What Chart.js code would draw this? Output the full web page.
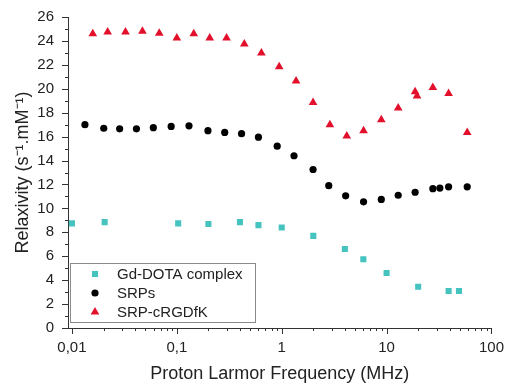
<!DOCTYPE html>
<html>
<head>
<meta charset="utf-8">
<script src="https://cdn.jsdelivr.net/npm/chart.js@4/dist/chart.umd.min.js"></script>
<style>
  html, body { margin: 0; padding: 0; background: #fff; }
  #wrap { width: 509px; height: 389px; position: relative; }
</style>
</head>
<body>
<div id="wrap"><canvas id="relaxChart"></canvas></div>
<script>
// values
const xTickValues = [0.01, 0.1, 1, 10, 100];

const gdFreq = [0.01, 0.0205, 0.103, 0.2, 0.4, 0.6, 1.0, 2.0, 4.0, 6.0, 10, 20, 39, 49];
const gdRelax = [8.75, 8.85, 8.75, 8.7, 8.85, 8.6, 8.4, 7.7, 6.6, 5.75, 4.6, 3.45, 3.1, 3.1];

const srpFreq = [0.0133, 0.0201, 0.0285, 0.0412, 0.0597, 0.0883, 0.1306, 0.198, 0.286, 0.414, 0.6, 0.906,
                 1.31, 1.99, 2.81, 4.07, 6.03, 8.9, 12.9, 18.7, 27.6, 32.2, 39.0, 58.7];
const srpRelax = [17.0, 16.7, 16.65, 16.65, 16.75, 16.85, 16.9, 16.5, 16.35, 16.25, 15.95, 15.2,
                  14.4, 13.25, 11.9, 11.05, 10.55, 10.75, 11.1, 11.35, 11.65, 11.7, 11.8, 11.8];

const rgdFreq = [0.0158, 0.0219, 0.0324, 0.047, 0.068, 0.1, 0.145, 0.206, 0.298, 0.44, 0.64, 0.946,
                 1.37, 1.99, 2.88, 4.17, 6.03, 8.9, 12.9, 18.7, 19.5, 27.6, 39, 58.7];
const rgdRelax = [24.6, 24.75, 24.75, 24.8, 24.65, 24.25, 24.6, 24.25, 24.25, 23.75, 23.0, 21.85,
                  20.65, 18.85, 17.0, 16.05, 16.5, 17.4, 18.4, 19.75, 19.4, 20.1, 19.6, 16.35];

const toPoints = (xs, ys) => xs.map((x, i) => ({ x: x, y: ys[i] }));

const FONT = 'Liberation Sans, Arial, sans-serif';

// axis ticks (major + minor) drawn by hand so minor ones can be shorter
const tickMarks = {
    id: 'tickMarks',
    afterDraw(chart) {
        const ctx = chart.ctx;
        const xs = chart.scales.x, ys = chart.scales.y;
        const area = chart.chartArea;
        ctx.save();
        ctx.strokeStyle = '#333';
        ctx.lineWidth = 1;
        ctx.beginPath();
        for (let e = -2; e <= 2; e++) {
            for (let m = 1; m <= 9; m++) {
                const v = m * Math.pow(10, e);
                if (v > 100.0001) continue;
                const px = Math.round(xs.getPixelForValue(v)) + 0.5;
                const len = m === 1 ? 6 : 3;
                ctx.moveTo(px, area.bottom);
                ctx.lineTo(px, area.bottom + len);
            }
        }
        for (let v = 0; v <= 26; v++) {
            const py = Math.round(ys.getPixelForValue(v)) + 0.5;
            const len = v % 2 === 0 ? 6 : 3;
            ctx.moveTo(area.left, py);
            ctx.lineTo(area.left - len, py);
        }
        ctx.stroke();
        ctx.restore();
    }
};

// boxed legend sitting inside the plot, bottom left
const boxLegend = {
    id: 'boxLegend',
    afterDraw(chart) {
        const ctx = chart.ctx;
        ctx.save();
        ctx.strokeStyle = '#8a8a8a';
        ctx.lineWidth = 1;
        ctx.strokeRect(70.5, 263.5, 185, 59);
        ctx.font = '15px ' + FONT;
        ctx.textBaseline = 'middle';
        chart.data.datasets.forEach((ds, i) => {
            const y = 274 + i * 19;
            ctx.fillStyle = ds.backgroundColor;
            ctx.strokeStyle = ds.borderColor;
            Chart.helpers.drawPoint(ctx, {
                pointStyle: ds.pointStyle, radius: ds.pointRadius, rotation: 0, borderWidth: 0
            }, 95, y);
            ctx.fillStyle = '#222';
            ctx.fillText(ds.label, 117, y + 1);
        });
        ctx.restore();
    }
};

new Chart(document.getElementById('relaxChart'), {
    type: 'scatter',
    data: {
        datasets: [
            { label: 'Gd-DOTA complex', data: toPoints(gdFreq, gdRelax), pointStyle: 'rect',
              pointRadius: 4.3, backgroundColor: '#45c3bf', borderColor: '#45c3bf', borderWidth: 0 },
            { label: 'SRPs', data: toPoints(srpFreq, srpRelax), pointStyle: 'circle',
              pointRadius: 3.6, backgroundColor: '#000000', borderColor: '#000000', borderWidth: 0 },
            { label: 'SRP-cRGDfK', data: toPoints(rgdFreq, rgdRelax), pointStyle: 'triangle',
              pointRadius: 5, backgroundColor: '#e3102c', borderColor: '#e3102c', borderWidth: 0 }
        ]
    },
    options: {
        responsive: true,
        maintainAspectRatio: false,
        animation: false,
        layout: { padding: { top: 16, right: 14, bottom: 0, left: 0 } },
        plugins: {
            legend: { display: false },
            tooltip: { enabled: false }
        },
        scales: {
            x: {
                type: 'logarithmic',
                min: 0.00917,
                max: 100,
                afterBuildTicks: s => { s.ticks = xTickValues.map(v => ({ value: v, major: true })); },
                afterFit: s => { s.height = 61; },
                grid: { drawOnChartArea: false, drawTicks: true, tickLength: 6, tickColor: 'rgba(0,0,0,0)' },
                border: { display: true, color: '#333', width: 1 },
                ticks: {
                    autoSkip: false, maxRotation: 0, padding: 5, color: '#222',
                    font: { family: FONT, size: 15 },
                    callback: v => String(v).replace('.', ',')
                },
                title: {
                    display: true, text: 'Proton Larmor Frequency (MHz)', color: '#222',
                    font: { family: FONT, size: 18 }, padding: { top: 0, bottom: 4 }
                }
            },
            y: {
                min: 0,
                max: 26,
                afterFit: s => { s.width = 68; },
                grid: { drawOnChartArea: false, drawTicks: true, tickLength: 6, tickColor: 'rgba(0,0,0,0)' },
                border: { display: true, color: '#333', width: 1 },
                ticks: {
                    stepSize: 2, padding: 8, color: '#222',
                    font: { family: FONT, size: 15 }
                },
                title: {
                    display: true, text: 'Relaxivity (s\u207B\u00B9.mM\u207B\u00B9)', color: '#222',
                    font: { family: FONT, size: 18 }, padding: { top: 12, bottom: 0 }
                }
            }
        }
    },
    plugins: [tickMarks, boxLegend]
});
</script>
</body>
</html>
